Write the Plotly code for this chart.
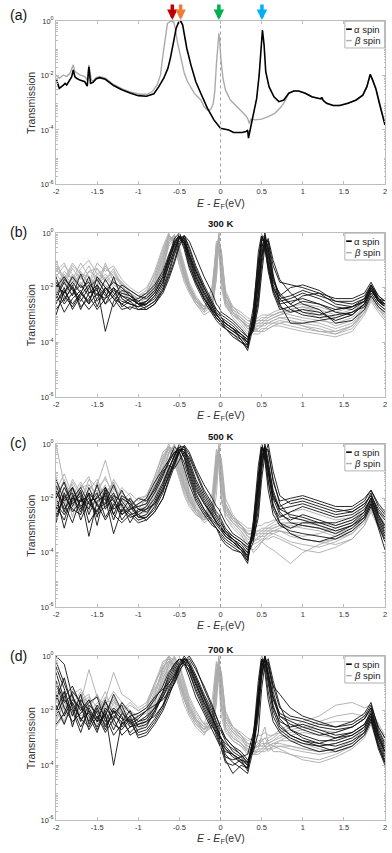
import plotly.graph_objects as go

# ---------------- panel (a): relaxed junction, log10(T)
a_alpha_e = [-2.00, -1.96, -1.91, -1.89, -1.87, -1.85, -1.83, -1.81, -1.79, -1.77, -1.75, -1.71,
             -1.65, -1.62, -1.60, -1.58, -1.55, -1.51, -1.47, -1.40, -1.30, -1.28, -1.20, -1.10,
             -1.00, -0.90, -0.81, -0.75, -0.69, -0.64, -0.61, -0.57, -0.54, -0.51, -0.48, -0.46,
             -0.44, -0.41, -0.36, -0.30, -0.24, -0.16, -0.08, 0.00, 0.10, 0.16, 0.26, 0.31,
             0.33, 0.34, 0.36, 0.40, 0.44, 0.47, 0.49, 0.51, 0.53, 0.55, 0.59, 0.65,
             0.71, 0.77, 0.83, 0.89, 0.95, 1.03, 1.11, 1.19, 1.22, 1.23, 1.25, 1.29,
             1.37, 1.45, 1.55, 1.65, 1.73, 1.78, 1.82, 1.85, 1.89, 1.93, 1.96, 2.00]
a_alpha_logt = [-2.10, -2.47, -2.35, -2.29, -2.35, -2.23, -2.17, -2.05, -1.80, -2.05, -2.10, -2.17,
                -2.23, -2.39, -1.68, -2.29, -2.25, -2.12, -2.08, -2.14, -2.37, -2.40, -2.52, -2.64,
                -2.74, -2.76, -2.67, -2.41, -2.10, -1.74, -1.37, -0.76, -0.27, -0.05, -0.02, -0.15,
                -0.45, -1.00, -1.61, -2.23, -2.65, -3.20, -3.63, -3.94, -4.00, -4.09, -4.09, -4.06,
                -4.00, -4.30, -4.00, -3.45, -2.84, -1.98, -1.00, -0.33, -0.88, -1.86, -2.41, -2.78,
                -2.96, -2.90, -2.65, -2.57, -2.57, -2.65, -2.78, -2.84, -2.86, -2.80, -2.92, -3.02,
                -3.10, -3.10, -3.02, -2.90, -2.72, -2.41, -1.96, -2.17, -2.50, -3.00, -3.38, -3.82]

a_beta_e = [-2.00, -1.96, -1.91, -1.87, -1.83, -1.79, -1.77, -1.71, -1.65, -1.62, -1.60, -1.57,
            -1.55, -1.51, -1.47, -1.40, -1.30, -1.28, -1.20, -1.10, -0.98, -0.89, -0.83, -0.77,
            -0.73, -0.70, -0.67, -0.645, -0.61, -0.57, -0.55, -0.525, -0.48, -0.44, -0.40, -0.32,
            -0.24, -0.20, -0.16, -0.12, -0.09, -0.07, -0.05, -0.03, -0.02, -0.01, 0.004, 0.03,
            0.06, 0.12, 0.22, 0.30, 0.33, 0.35, 0.37, 0.42, 0.50, 0.58, 0.66, 0.74,
            0.78, 0.83, 0.89, 0.95, 1.03, 1.11, 1.19, 1.22, 1.23, 1.25, 1.29, 1.37,
            1.45, 1.55, 1.65, 1.73, 1.78, 1.82, 1.85, 1.89, 1.93, 1.96, 2.00]
a_beta_logt = [-1.98, -2.10, -1.98, -2.04, -1.92, -1.61, -1.86, -1.98, -2.04, -2.17, -1.61, -2.17,
               -2.20, -2.08, -2.04, -2.10, -2.33, -2.36, -2.48, -2.60, -2.69, -2.69, -2.59, -2.35,
               -1.98, -1.25, -0.51, -0.09, -0.02, -0.02, -0.27, -0.76, -1.37, -1.92, -2.23, -2.65,
               -2.90, -3.14, -3.27, -3.25, -3.05, -2.60, -1.60, -0.60, -0.45, -0.70, -1.37, -2.10,
               -2.53, -2.90, -3.20, -3.45, -3.57, -3.76, -3.60, -3.63, -3.60, -3.51, -3.39, -3.14,
               -2.96, -2.65, -2.57, -2.57, -2.65, -2.78, -2.84, -2.86, -2.80, -2.92, -3.02, -3.10,
               -3.10, -3.02, -2.90, -2.72, -2.41, -1.96, -2.17, -2.47, -2.96, -3.33, -3.76]

arrow_energies = [-0.586, -0.485, -0.02, 0.504]
arrow_colors = ['#C00000', '#ED7D31', '#00B050', '#00B0F0']

# ---------------- panels (b)-(d): MD snapshots, log10(T) on a shared energy grid
energy_grid = [-2.0, -1.9, -1.8, -1.7, -1.6, -1.5, -1.4, -1.3, -1.2, -1.1, -1.0,
               -0.9, -0.8, -0.7, -0.63, -0.56, -0.5, -0.44, -0.38, -0.3, -0.2, -0.1,
               -0.05, -0.02, 0.01, 0.06, 0.15, 0.25, 0.33,
               0.4, 0.46, 0.5, 0.54, 0.58, 0.64,
               0.72, 0.85, 1.0, 1.2, 1.4, 1.6, 1.75, 1.83, 1.92, 2.0]

alpha_300 = [
    [-1.9, -2.2, -1.6, -2.0, -1.8, -2.3, -1.7, -2.2, -2.5, -2.6, -2.7,
     -2.6, -2.3, -1.8, -1.1, -0.4, -0.05, -0.3, -0.9, -1.6, -2.3, -2.9,
     -3.1, -3.2, -3.3, -3.4, -3.6, -3.8, -4.1,
     -3.3, -1.6, -0.3, -0.2, -1.0, -2.0,
     -2.5, -2.4, -2.2, -2.4, -2.7, -2.8, -2.5, -2.0, -2.5, -2.6],
    [-2.4, -1.8, -2.3, -1.5, -2.2, -1.9, -2.6, -2.0, -2.3, -2.5, -2.4,
     -2.2, -1.9, -1.4, -0.8, -0.3, -0.1, -0.6, -1.3, -1.9, -2.5, -3.0,
     -3.2, -3.3, -3.4, -3.5, -3.7, -3.9, -4.2,
     -2.9, -0.7, -0.05, -0.5, -1.4, -2.2,
     -2.8, -2.7, -2.5, -2.6, -2.9, -3.0, -2.6, -2.1, -2.4, -2.7],
    [-3.0, -2.1, -2.6, -2.2, -1.6, -2.5, -2.1, -1.8, -2.0, -2.3, -2.5,
     -2.7, -2.5, -2.0, -1.4, -0.7, -0.2, -0.1, -0.6, -1.3, -2.0, -2.6,
     -2.9, -3.0, -3.1, -3.2, -3.4, -3.7, -3.9,
     -3.5, -2.2, -0.8, -0.1, -0.7, -1.7,
     -2.3, -2.0, -1.9, -2.1, -2.5, -2.6, -2.4, -1.9, -2.3, -2.5],
    [-1.6, -2.5, -1.9, -2.7, -2.4, -2.0, -3.6, -2.5, -2.1, -2.2, -2.6,
     -2.8, -2.6, -2.1, -1.5, -0.8, -0.3, -0.2, -0.8, -1.5, -2.2, -2.8,
     -3.0, -3.1, -3.2, -3.3, -3.5, -3.9, -4.3,
     -3.4, -1.9, -0.9, -0.4, -0.3, -1.5,
     -2.6, -3.3, -3.3, -3.2, -3.1, -2.9, -2.7, -2.2, -2.6, -2.8],
    [-2.2, -2.9, -2.4, -2.1, -2.6, -2.2, -2.4, -1.6, -2.4, -2.6, -2.7,
     -2.5, -2.2, -1.7, -1.0, -0.5, -0.15, -0.4, -1.0, -1.7, -2.4, -2.9,
     -3.1, -3.2, -3.3, -3.5, -3.8, -4.0, -4.1,
     -3.1, -1.3, -0.4, -0.6, -1.3, -2.1,
     -2.7, -2.9, -2.8, -2.9, -3.2, -3.0, -2.6, -2.1, -2.5, -2.7],
    [-2.6, -2.0, -2.8, -2.3, -1.9, -2.7, -2.0, -2.3, -2.6, -2.8, -2.5,
     -2.3, -2.0, -1.5, -0.9, -0.2, 0.0, -0.4, -1.1, -1.8, -2.4, -2.8,
     -3.0, -3.1, -3.2, -3.4, -3.6, -3.8, -4.0,
     -3.2, -1.8, -0.6, 0.0, -0.6, -1.8,
     -2.2, -2.6, -2.3, -2.2, -2.6, -2.7, -2.5, -1.9, -2.4, -2.6],
    [-2.0, -1.6, -2.1, -2.5, -2.0, -1.7, -2.2, -2.7, -2.2, -2.3, -2.6,
     -2.6, -2.4, -1.9, -1.2, -0.6, -0.2, -0.3, -0.8, -1.4, -2.0, -2.6,
     -2.8, -2.9, -3.1, -3.3, -3.5, -3.7, -3.9,
     -2.7, -1.0, -0.2, -0.3, -1.1, -2.0,
     -2.4, -2.3, -2.1, -2.3, -2.5, -2.5, -2.3, -1.9, -2.4, -2.5],
    [-2.8, -2.4, -2.0, -2.4, -2.8, -2.4, -2.0, -2.4, -2.8, -2.7, -2.8,
     -2.7, -2.5, -2.1, -1.6, -1.0, -0.4, -0.1, -0.5, -1.2, -1.9, -2.5,
     -2.8, -2.9, -3.0, -3.1, -3.3, -3.6, -3.8,
     -3.6, -2.7, -1.5, -0.5, -0.2, -1.0,
     -1.7, -2.2, -2.6, -2.8, -3.3, -3.2, -2.8, -2.3, -2.7, -2.9],
    [-2.1, -2.6, -2.2, -1.9, -2.3, -2.8, -2.4, -2.1, -2.3, -2.4, -2.6,
     -2.5, -2.2, -1.6, -0.9, -0.35, -0.08, -0.5, -1.2, -1.8, -2.4, -2.9,
     -3.1, -3.2, -3.3, -3.5, -3.7, -4.0, -4.2,
     -3.0, -1.1, -0.1, -0.4, -1.2, -2.1,
     -2.6, -2.5, -2.4, -2.6, -2.8, -2.7, -2.4, -2.0, -2.5, -2.7],
    [-1.8, -2.3, -2.7, -2.2, -2.5, -1.9, -2.3, -2.0, -2.7, -2.5, -2.8,
     -2.8, -2.6, -2.2, -1.7, -1.1, -0.5, -0.1, -0.3, -0.9, -1.6, -2.2,
     -2.6, -2.7, -2.9, -3.0, -3.2, -3.5, -3.8,
     -3.5, -2.5, -1.2, -0.3, -0.3, -1.2,
     -1.8, -1.9, -2.0, -2.2, -2.4, -2.4, -2.2, -1.8, -2.3, -2.5],
    [-2.3, -1.7, -2.0, -2.8, -2.2, -2.1, -2.6, -2.3, -1.9, -2.1, -2.3,
     -2.4, -2.1, -1.6, -1.0, -0.4, -0.1, -0.3, -0.9, -1.6, -2.2, -2.7,
     -3.0, -3.1, -3.2, -3.3, -3.5, -3.7, -4.0,
     -3.2, -1.5, -0.2, -0.1, -0.8, -1.9,
     -2.4, -2.8, -3.0, -3.1, -3.0, -2.9, -2.6, -2.1, -2.5, -2.7],
    [-2.5, -2.2, -1.8, -2.2, -2.6, -1.6, -2.0, -2.4, -2.6, -2.4, -2.6,
     -2.6, -2.3, -1.8, -1.2, -0.6, -0.15, -0.2, -0.7, -1.4, -2.1, -2.7,
     -3.0, -3.1, -3.2, -3.3, -3.5, -3.8, -4.0,
     -3.4, -2.3, -0.9, -0.2, -0.5, -1.6,
     -2.3, -2.6, -2.9, -3.0, -2.8, -2.7, -2.5, -2.0, -2.4, -2.6],
]
beta_300 = [
    [-1.5, -1.9, -1.3, -1.7, -1.2, -1.8, -1.5, -1.9, -2.1, -2.3, -2.4,
     -2.2, -1.6, -0.8, -0.05, -0.4, -1.1, -1.7, -2.1, -2.5, -2.8, -2.6,
     -0.9, -0.1, -1.3, -2.4, -2.9, -3.1, -3.3,
     -3.4, -3.4, -3.3, -3.3, -3.2, -3.1,
     -3.0, -2.9, -2.8, -3.0, -3.2, -3.0, -2.6, -2.2, -2.6, -2.8],
    [-1.2, -1.6, -2.0, -1.4, -1.9, -1.3, -1.7, -1.4, -2.0, -2.2, -2.5,
     -2.4, -1.9, -1.1, -0.3, -0.1, -0.6, -1.3, -1.9, -2.4, -2.7, -2.3,
     -0.3, -0.4, -1.8, -2.6, -3.0, -3.2, -3.5,
     -3.5, -3.6, -3.5, -3.5, -3.4, -3.3,
     -3.2, -3.3, -3.4, -3.5, -3.7, -3.5, -2.9, -2.4, -2.8, -3.0],
    [-2.0, -1.4, -1.7, -1.1, -1.6, -2.1, -1.2, -1.6, -1.8, -2.1, -2.3,
     -2.1, -1.4, -0.5, 0.0, -0.5, -1.2, -1.8, -2.2, -2.6, -2.9, -1.9,
     -0.6, -0.2, -0.9, -2.2, -2.8, -3.0, -3.2,
     -3.2, -3.1, -3.0, -3.0, -3.0, -2.9,
     -2.8, -2.7, -2.6, -2.7, -2.9, -2.7, -2.5, -2.1, -2.5, -2.7],
    [-1.7, -2.2, -1.5, -2.0, -1.4, -1.6, -2.0, -1.8, -2.2, -2.4, -2.6,
     -2.5, -2.0, -1.2, -0.4, -0.1, -0.7, -1.4, -2.0, -2.5, -2.9, -2.7,
     -1.4, -0.5, -0.6, -2.2, -2.9, -3.2, -3.4,
     -3.6, -3.5, -3.4, -3.3, -3.3, -3.2,
     -3.1, -3.1, -3.2, -3.3, -3.5, -3.3, -2.8, -2.3, -2.7, -2.9],
    [-1.0, -1.8, -1.2, -1.5, -1.8, -1.1, -1.4, -1.2, -1.7, -2.0, -2.2,
     -2.0, -1.5, -0.6, -0.1, -0.3, -0.9, -1.5, -2.0, -2.4, -2.7, -2.4,
     -1.0, 0.0, -1.0, -2.3, -2.7, -2.9, -3.1,
     -3.2, -3.2, -3.1, -3.1, -3.0, -3.0,
     -2.9, -2.8, -2.7, -2.8, -3.0, -2.8, -2.4, -2.0, -2.4, -2.6],
    [-2.2, -1.6, -2.3, -1.8, -2.2, -1.7, -1.9, -2.2, -2.3, -2.5, -2.7,
     -2.6, -2.1, -1.3, -0.5, -0.2, -0.8, -1.5, -2.1, -2.6, -3.0, -2.8,
     -1.7, -0.3, -1.6, -2.6, -3.1, -3.4, -3.7,
     -3.6, -3.6, -3.6, -3.5, -3.5, -3.4,
     -3.4, -3.5, -3.6, -3.7, -3.8, -3.6, -3.0, -2.5, -2.9, -3.2],
    [-1.4, -1.1, -1.8, -1.3, -1.0, -1.5, -1.3, -1.6, -1.9, -2.1, -2.3,
     -2.2, -1.7, -0.9, -0.2, -0.2, -0.7, -1.4, -2.0, -2.4, -2.7, -2.2,
     -0.5, -0.6, -2.0, -2.7, -3.0, -3.2, -3.4,
     -3.3, -3.3, -3.2, -3.2, -3.1, -3.0,
     -2.9, -3.0, -3.1, -3.2, -3.3, -3.1, -2.7, -2.2, -2.6, -2.8],
    [-1.8, -2.0, -1.6, -2.2, -1.7, -1.9, -1.6, -2.0, -2.4, -2.6, -2.7,
     -2.3, -1.8, -1.0, -0.2, -0.3, -1.0, -1.6, -2.1, -2.5, -2.8, -2.5,
     -1.2, -0.2, -1.1, -2.5, -3.0, -3.3, -3.6,
     -3.7, -3.7, -3.6, -3.6, -3.5, -3.4,
     -3.3, -3.2, -3.4, -3.6, -3.7, -3.4, -2.9, -2.4, -2.8, -3.1],
    [-1.6, -1.2, -1.5, -1.9, -1.4, -1.3, -1.8, -1.5, -1.8, -2.2, -2.4,
     -2.3, -1.8, -0.9, -0.15, -0.2, -0.9, -1.5, -2.0, -2.4, -2.8, -2.3,
     -0.7, -0.05, -1.4, -2.5, -2.9, -3.2, -3.5,
     -3.5, -3.4, -3.4, -3.3, -3.3, -3.2,
     -3.1, -3.2, -3.3, -3.4, -3.6, -3.4, -2.8, -2.3, -2.7, -3.0],
    [-2.1, -1.5, -1.9, -1.6, -2.0, -1.5, -1.7, -1.3, -1.9, -2.3, -2.5,
     -2.4, -2.0, -1.2, -0.3, -0.05, -0.6, -1.3, -1.9, -2.4, -2.8, -2.7,
     -1.6, -0.2, -0.7, -2.3, -2.8, -3.1, -3.4,
     -3.4, -3.3, -3.3, -3.2, -3.2, -3.1,
     -3.0, -2.8, -2.9, -3.1, -3.4, -3.2, -2.7, -2.3, -2.7, -2.9],
    [-1.3, -1.7, -1.1, -1.5, -1.6, -1.9, -1.1, -1.8, -2.0, -2.2, -2.4,
     -2.2, -1.6, -0.7, -0.1, -0.3, -0.9, -1.6, -2.1, -2.5, -2.8, -2.0,
     -0.4, -0.3, -1.5, -2.4, -2.9, -3.2, -3.4,
     -3.5, -3.5, -3.4, -3.4, -3.3, -3.3,
     -3.3, -3.4, -3.5, -3.6, -3.6, -3.4, -2.9, -2.4, -2.8, -3.0],
    [-1.9, -2.3, -1.8, -1.6, -2.1, -1.6, -2.2, -1.7, -2.1, -2.4, -2.6,
     -2.5, -2.1, -1.3, -0.4, -0.1, -0.5, -1.2, -1.8, -2.3, -2.7, -2.5,
     -1.1, -0.4, -0.8, -2.1, -2.7, -3.0, -3.2,
     -3.3, -3.2, -3.2, -3.1, -3.1, -3.0,
     -2.9, -2.8, -2.7, -2.9, -3.1, -2.9, -2.5, -2.1, -2.5, -2.7],
]

alpha_500 = [
    [-2.0, -1.4, -2.3, -1.7, -2.6, -1.9, -2.2, -1.5, -2.3, -2.6, -2.5,
     -2.3, -1.8, -1.2, -0.6, -0.1, -0.3, -0.9, -1.5, -2.1, -2.6, -3.0,
     -3.1, -3.2, -3.3, -3.5, -3.7, -3.9, -4.2,
     -3.0, -1.2, -0.1, -0.5, -1.4, -2.3,
     -2.7, -2.5, -2.3, -2.5, -2.7, -2.6, -2.3, -1.8, -2.6, -3.0],
    [-2.6, -2.0, -1.6, -2.4, -1.8, -3.0, -1.7, -2.6, -1.9, -2.1, -2.7,
     -2.6, -2.1, -1.5, -0.9, -0.4, 0.0, -0.4, -1.0, -1.7, -2.2, -2.7,
     -2.9, -3.0, -3.1, -3.3, -3.6, -3.8, -4.0,
     -3.4, -2.0, -0.6, 0.0, -0.6, -1.8,
     -2.5, -2.9, -3.0, -3.1, -3.3, -3.0, -2.6, -2.1, -2.9, -3.4],
    [-1.5, -2.4, -2.0, -1.6, -2.2, -1.8, -2.7, -2.2, -2.6, -2.3, -2.0,
     -2.1, -1.7, -1.1, -0.7, -0.3, -0.2, -0.5, -1.1, -1.8, -2.4, -2.9,
     -3.1, -3.2, -3.4, -3.6, -3.8, -4.0, -4.4,
     -2.8, -0.8, 0.0, -0.6, -1.7, -2.6,
     -3.0, -3.2, -3.3, -3.4, -3.5, -3.2, -2.8, -2.3, -3.0, -3.5],
    [-2.3, -2.8, -1.9, -2.5, -1.6, -2.3, -2.0, -3.3, -2.4, -2.7, -2.6,
     -2.4, -2.0, -1.4, -0.9, -0.5, -0.1, -0.1, -0.6, -1.3, -1.9, -2.4,
     -2.7, -2.8, -3.0, -3.2, -3.4, -3.6, -3.9,
     -3.2, -1.6, -0.4, -0.2, -1.1, -2.0,
     -2.3, -2.1, -2.0, -2.2, -2.4, -2.5, -2.2, -1.9, -2.5, -2.8],
    [-1.8, -2.2, -2.9, -2.0, -2.4, -1.5, -2.4, -1.9, -2.1, -2.5, -2.8,
     -2.7, -2.4, -1.8, -1.1, -0.6, -0.2, -0.2, -0.7, -1.4, -2.0, -2.5,
     -2.8, -2.9, -3.1, -3.3, -3.5, -3.8, -4.1,
     -3.6, -2.4, -1.0, -0.1, -0.3, -1.3,
     -2.2, -2.7, -2.8, -3.0, -3.2, -3.0, -2.7, -2.2, -3.0, -3.6],
    [-2.9, -1.8, -2.5, -2.1, -1.9, -2.6, -2.3, -2.0, -2.8, -2.4, -2.3,
     -2.2, -1.6, -1.0, -0.8, -0.9, -0.6, -0.3, -0.5, -1.1, -1.8, -2.3,
     -2.6, -2.7, -2.9, -3.2, -3.5, -3.7, -4.0,
     -3.3, -1.4, -0.2, -0.3, -1.0, -1.9,
     -2.4, -2.3, -2.2, -2.4, -2.6, -2.5, -2.2, -1.9, -2.4, -2.7],
    [-1.3, -2.1, -1.8, -2.8, -2.1, -2.0, -1.6, -2.4, -2.2, -2.9, -2.4,
     -2.5, -2.2, -1.6, -1.0, -0.4, -0.1, -0.5, -1.2, -1.9, -2.4, -2.8,
     -3.0, -3.1, -3.2, -3.4, -3.6, -3.9, -4.3,
     -3.1, -1.8, -0.7, -0.1, -0.9, -2.2,
     -2.9, -3.3, -3.5, -3.6, -3.4, -3.1, -2.7, -2.2, -3.1, -3.9],
    [-2.4, -1.6, -2.2, -1.9, -3.4, -2.1, -1.9, -2.8, -2.0, -2.2, -2.6,
     -2.8, -2.5, -2.0, -1.4, -0.8, -0.3, -0.1, -0.4, -1.0, -1.7, -2.2,
     -2.5, -2.6, -2.8, -3.1, -3.4, -3.6, -3.8,
     -3.5, -2.7, -1.3, -0.4, 0.0, -1.0,
     -1.9, -2.2, -2.1, -2.3, -2.5, -2.4, -2.1, -1.7, -2.3, -2.6],
    [-1.7, -2.5, -1.6, -2.3, -2.0, -2.7, -1.6, -2.1, -2.5, -2.0, -2.4,
     -2.4, -2.2, -1.7, -1.2, -0.6, -0.2, -0.2, -0.8, -1.5, -2.1, -2.6,
     -2.9, -3.0, -3.2, -3.4, -3.6, -3.9, -4.1,
     -3.3, -1.5, -0.3, -0.1, -0.8, -2.0,
     -2.6, -2.8, -2.6, -2.8, -3.0, -2.8, -2.5, -2.0, -2.8, -3.3],
    [-2.2, -2.6, -2.1, -1.8, -2.9, -2.4, -2.2, -1.8, -2.6, -2.4, -2.2,
     -2.0, -1.4, -0.9, -0.6, -0.3, -0.3, -0.7, -1.3, -2.0, -2.5, -2.9,
     -3.1, -3.3, -3.5, -3.7, -3.9, -4.0, -4.3,
     -2.9, -1.0, 0.0, -0.4, -1.3, -2.4,
     -2.9, -3.1, -2.9, -2.9, -3.1, -2.9, -2.5, -2.0, -2.7, -3.2],
    [-2.7, -1.9, -2.4, -2.6, -1.8, -2.2, -2.8, -2.3, -1.7, -2.3, -2.7,
     -2.7, -2.3, -1.7, -1.2, -0.7, -0.3, -0.05, -0.3, -0.9, -1.5, -2.0,
     -2.3, -2.4, -2.6, -2.9, -3.3, -3.5, -3.7,
     -3.4, -2.2, -0.8, -0.2, -0.2, -1.4,
     -2.1, -2.0, -1.9, -2.1, -2.3, -2.3, -2.0, -1.7, -2.2, -2.5],
    [-1.9, -3.1, -2.0, -2.1, -2.2, -2.5, -1.8, -2.6, -2.9, -2.6, -2.9,
     -2.8, -2.5, -2.0, -1.3, -0.7, -0.2, -0.3, -0.9, -1.6, -2.2, -2.6,
     -2.9, -3.0, -3.1, -3.3, -3.5, -3.8, -4.2,
     -3.2, -1.7, -0.5, -0.1, -0.7, -1.7,
     -2.4, -2.6, -2.7, -2.9, -2.9, -2.7, -2.4, -2.0, -2.6, -3.1],
]
beta_500 = [
    [0.0, -1.5, -1.9, -1.4, -2.0, -1.6, -1.3, -1.8, -2.2, -2.0, -2.4,
     -2.0, -1.2, -0.3, -0.1, -0.6, -1.2, -1.8, -2.2, -2.6, -2.8, -2.5,
     -1.0, 0.0, -1.2, -2.4, -2.8, -3.1, -3.3,
     -3.4, -3.3, -3.3, -3.2, -3.2, -3.1,
     -3.0, -3.1, -3.0, -3.1, -3.2, -3.0, -2.5, -2.1, -2.7, -3.0],
    [-1.6, -2.2, -1.3, -1.8, -2.4, -1.5, -0.6, -1.7, -1.9, -2.3, -2.5,
     -2.3, -1.7, -0.8, -0.1, -0.2, -0.8, -1.5, -2.0, -2.5, -2.9, -2.7,
     -0.4, -0.4, -1.9, -2.7, -3.1, -3.4, -3.6,
     -3.7, -3.6, -3.5, -3.5, -3.4, -3.3,
     -3.4, -3.6, -3.7, -3.8, -3.6, -3.3, -2.8, -2.3, -2.9, -3.3],
    [-2.0, -1.3, -2.1, -1.6, -1.2, -2.2, -1.8, -1.4, -2.4, -2.6, -2.2,
     -2.1, -1.5, -0.5, 0.0, -0.4, -1.0, -1.6, -2.1, -2.5, -2.7, -1.8,
     -0.2, -0.8, -2.1, -2.6, -2.9, -3.2, -3.6,
     -4.0, -3.8, -3.6, -3.4, -3.3, -3.2,
     -3.2, -3.3, -3.4, -3.3, -3.1, -2.9, -2.6, -2.2, -2.8, -3.1],
    [-2.5, -1.8, -1.5, -2.3, -1.7, -1.3, -2.0, -2.2, -1.6, -1.9, -2.6,
     -2.5, -2.0, -1.2, -0.4, 0.0, -0.5, -1.2, -1.8, -2.3, -2.7, -2.6,
     -1.5, -0.2, -0.8, -2.2, -2.7, -2.9, -3.1,
     -3.1, -3.0, -3.0, -2.9, -2.9, -2.8,
     -2.8, -2.7, -2.8, -2.9, -3.0, -2.8, -2.4, -2.0, -2.6, -2.9],
    [-1.2, -2.6, -1.7, -2.0, -1.5, -1.9, -1.6, -2.4, -2.0, -2.2, -2.0,
     -1.9, -1.3, -0.6, -0.2, -0.5, -1.1, -1.7, -2.1, -2.4, -2.6, -2.4,
     -0.8, -0.1, -1.5, -2.5, -2.9, -3.1, -3.4,
     -3.5, -3.5, -3.6, -3.7, -3.8, -3.9,
     -4.1, -4.4, -4.0, -3.7, -3.5, -3.3, -2.9, -2.4, -3.0, -3.4],
    [-2.8, -2.0, -2.4, -1.8, -2.2, -2.5, -1.9, -2.1, -2.5, -2.3, -2.7,
     -2.6, -2.2, -1.4, -0.6, -0.2, -0.4, -1.0, -1.7, -2.2, -2.6, -2.2,
     -0.6, -0.5, -1.6, -2.4, -2.8, -3.0, -3.2,
     -3.2, -3.2, -3.1, -3.1, -3.0, -2.9,
     -2.7, -2.5, -2.4, -2.6, -2.8, -2.7, -2.3, -1.9, -2.5, -2.7],
    [-1.9, -1.4, -2.7, -1.5, -1.9, -1.7, -2.3, -1.3, -1.8, -2.1, -2.3,
     -2.2, -1.5, -0.7, -0.1, -0.3, -0.9, -1.5, -2.0, -2.4, -2.7, -2.6,
     -1.3, -0.1, -1.0, -2.3, -2.7, -3.0, -3.3,
     -3.3, -3.4, -3.4, -3.3, -3.3, -3.2,
     -3.1, -3.0, -3.1, -3.2, -3.4, -3.2, -2.7, -2.2, -2.8, -3.1],
    [-2.2, -2.4, -1.8, -2.6, -2.3, -2.0, -1.5, -2.6, -2.2, -2.5, -2.8,
     -2.7, -2.3, -1.6, -0.7, -0.2, -0.6, -1.3, -1.9, -2.4, -2.8, -2.7,
     -1.9, -0.5, -0.5, -2.0, -2.6, -3.0, -3.4,
     -3.6, -3.4, -3.3, -3.3, -3.2, -3.2,
     -3.2, -3.3, -3.5, -3.6, -3.7, -3.5, -3.0, -2.4, -2.9, -3.2],
    [-1.4, -1.8, -2.2, -1.6, -1.5, -1.8, -1.2, -2.0, -1.8, -2.1, -2.3,
     -2.2, -1.6, -0.6, -0.1, -0.4, -1.0, -1.6, -2.1, -2.5, -2.8, -2.3,
     -0.5, -0.1, -1.6, -2.5, -2.9, -3.2, -3.5,
     -3.6, -3.5, -3.4, -3.4, -3.3, -3.3,
     -3.2, -3.4, -3.5, -3.6, -3.5, -3.2, -2.7, -2.2, -2.8, -3.2],
    [-2.3, -1.9, -1.6, -2.0, -1.8, -2.2, -1.7, -1.6, -2.0, -2.4, -2.5,
     -2.4, -1.9, -1.1, -0.3, -0.05, -0.5, -1.2, -1.8, -2.3, -2.7, -2.5,
     -1.2, -0.3, -0.7, -2.2, -2.7, -3.0, -3.3,
     -3.3, -3.2, -3.2, -3.1, -3.1, -3.0,
     -2.9, -2.9, -3.0, -3.1, -3.3, -3.1, -2.6, -2.1, -2.7, -3.0],
    [-1.7, -1.1, -1.9, -2.1, -1.3, -1.6, -2.0, -1.4, -2.1, -1.8, -2.1,
     -1.9, -1.2, -0.4, -0.2, -0.7, -1.3, -1.9, -2.3, -2.6, -2.8, -2.1,
     -0.4, -0.6, -2.0, -2.7, -3.0, -3.3, -3.8,
     -3.9, -3.7, -3.6, -3.5, -3.5, -3.4,
     -3.5, -3.7, -3.9, -4.0, -3.8, -3.5, -3.0, -2.5, -3.1, -3.6],
    [-2.1, -2.3, -1.4, -1.9, -2.5, -1.4, -2.1, -1.9, -2.4, -2.1, -2.4,
     -2.3, -1.8, -0.9, -0.3, -0.2, -0.7, -1.4, -1.9, -2.4, -2.7, -2.4,
     -0.9, -0.1, -1.2, -2.3, -2.8, -3.0, -3.3,
     -3.3, -3.3, -3.2, -3.2, -3.1, -3.1,
     -3.0, -2.9, -2.9, -3.0, -3.2, -3.0, -2.6, -2.2, -2.7, -3.0],
]

alpha_700 = [
    [0.0, -0.3, -1.5, -2.0, -1.6, -2.3, -1.7, -2.1, -1.8, -2.5, -2.3,
     -2.0, -1.6, -1.1, -0.6, -0.3, -0.1, -0.2, -0.6, -1.3, -2.0, -2.6,
     -2.8, -2.9, -3.0, -3.2, -3.4, -3.6, -3.9,
     -3.2, -1.5, -0.3, -0.2, -0.9, -1.9,
     -2.4, -2.6, -2.5, -2.7, -2.9, -2.8, -2.5, -2.0, -2.9, -3.4],
    [-0.4, -1.2, -2.2, -1.4, -2.5, -1.9, -2.6, -2.0, -2.6, -2.2, -2.8,
     -2.7, -2.3, -1.8, -1.2, -0.7, -0.3, 0.0, -0.3, -0.9, -1.6, -2.3,
     -2.6, -2.8, -3.0, -3.3, -3.6, -3.8, -4.2,
     -2.9, -0.9, 0.0, -0.6, -1.6, -2.4,
     -2.8, -3.1, -3.3, -3.5, -3.4, -3.2, -2.8, -2.3, -3.3, -3.9],
    [-1.6, -0.8, -1.9, -2.6, -2.0, -2.7, -2.1, -4.0, -2.4, -2.0, -2.6,
     -2.5, -2.1, -1.4, -0.9, -0.5, -0.2, -0.1, -0.4, -1.0, -1.7, -2.3,
     -2.6, -2.9, -3.2, -3.6, -3.9, -4.1, -4.3,
     -3.4, -2.2, -0.7, 0.0, -0.4, -1.1,
     -1.4, -1.9, -2.2, -2.4, -2.6, -2.5, -2.2, -1.8, -2.6, -3.0],
    [-2.2, -1.5, -1.1, -1.8, -2.7, -2.2, -2.8, -2.3, -2.9, -2.6, -2.4,
     -2.2, -1.9, -1.5, -1.1, -0.8, -0.4, -0.1, -0.2, -0.7, -1.4, -2.0,
     -2.4, -2.6, -2.8, -3.1, -3.5, -3.7, -4.0,
     -3.1, -1.3, -0.2, -0.1, -0.8, -1.8,
     -2.5, -2.9, -3.1, -3.3, -3.5, -3.3, -2.9, -2.4, -3.4, -4.0],
    [-1.0, -1.9, -2.4, -2.1, -1.7, -1.5, -2.4, -1.9, -2.2, -2.9, -2.7,
     -2.6, -2.0, -1.3, -0.7, -0.3, -0.1, -0.3, -0.8, -1.5, -2.1, -2.7,
     -3.0, -3.2, -3.4, -3.7, -3.8, -3.7, -3.6,
     -2.8, -1.7, -0.6, -0.3, -0.2, -1.1,
     -1.9, -2.2, -2.3, -2.5, -2.6, -2.4, -2.1, -1.7, -2.7, -3.2],
    [-1.8, -2.5, -1.7, -2.3, -2.1, -2.6, -2.0, -2.7, -2.1, -2.4, -2.2,
     -2.0, -1.8, -1.6, -1.3, -1.0, -0.6, -0.2, 0.0, -0.4, -1.2, -1.9,
     -2.3, -2.5, -2.7, -3.0, -3.3, -3.5, -3.8,
     -3.5, -2.8, -1.2, -0.3, -0.1, -0.9,
     -1.8, -2.7, -3.0, -3.2, -3.0, -2.8, -2.5, -2.1, -3.0, -3.6],
    [-0.6, -1.6, -2.0, -2.8, -1.9, -2.4, -1.6, -2.5, -2.7, -2.3, -3.0,
     -2.9, -2.5, -2.0, -1.5, -0.9, -0.4, -0.1, -0.3, -0.8, -1.5, -2.1,
     -2.5, -2.7, -3.1, -3.8, -4.3, -4.0, -4.1,
     -3.3, -1.9, -0.5, -0.1, -0.7, -1.6,
     -2.2, -2.4, -2.6, -2.8, -3.0, -2.9, -2.6, -2.2, -3.1, -3.7],
    [-2.5, -2.1, -1.3, -1.7, -2.4, -1.8, -2.2, -1.4, -2.0, -2.6, -2.5,
     -2.4, -2.2, -1.8, -1.4, -1.0, -0.5, -0.3, -0.5, -1.1, -1.8, -2.4,
     -2.8, -3.0, -3.3, -3.5, -3.6, -3.8, -4.0,
     -3.0, -1.1, -0.1, -0.4, -1.3, -2.2,
     -2.7, -3.0, -3.2, -3.3, -3.2, -3.0, -2.7, -2.2, -3.2, -3.8],
    [-0.2, -1.0, -1.8, -2.3, -2.6, -2.0, -2.5, -2.2, -2.4, -2.8, -2.5,
     -2.4, -2.0, -1.5, -1.0, -0.6, -0.3, -0.1, -0.3, -0.8, -1.5, -2.2,
     -2.6, -2.8, -3.1, -3.4, -3.6, -3.9, -4.1,
     -3.1, -1.4, -0.2, -0.2, -1.0, -2.0,
     -2.6, -2.9, -3.1, -3.2, -3.3, -3.1, -2.8, -2.3, -3.3, -3.9],
    [-1.4, -2.2, -1.6, -1.9, -2.2, -2.8, -1.9, -2.3, -1.7, -2.1, -2.4,
     -2.3, -1.9, -1.3, -0.8, -0.4, -0.1, -0.2, -0.6, -1.2, -1.9, -2.5,
     -2.9, -3.1, -3.4, -3.9, -4.0, -3.8, -3.9,
     -3.0, -1.6, -0.4, -0.1, -0.6, -1.5,
     -2.1, -2.3, -2.4, -2.6, -2.7, -2.6, -2.3, -1.9, -2.8, -3.3],
    [-2.0, -1.3, -2.6, -1.6, -2.0, -2.4, -2.2, -2.9, -2.5, -2.2, -2.1,
     -1.9, -1.5, -1.2, -1.0, -0.7, -0.4, -0.2, -0.1, -0.5, -1.1, -1.8,
     -2.2, -2.4, -2.7, -3.0, -3.3, -3.6, -3.9,
     -3.3, -2.0, -0.8, -0.1, -0.3, -1.3,
     -2.2, -2.5, -2.7, -2.9, -2.8, -2.6, -2.3, -1.9, -2.9, -3.5],
    [-0.9, -1.7, -1.4, -2.4, -1.8, -2.1, -2.7, -2.0, -2.3, -2.4, -2.9,
     -2.8, -2.4, -1.9, -1.3, -0.8, -0.4, -0.2, -0.4, -1.0, -1.7, -2.3,
     -2.7, -2.9, -3.2, -3.4, -3.7, -3.9, -4.1,
     -3.2, -1.8, -0.4, 0.0, -0.6, -1.5,
     -2.3, -2.7, -2.9, -3.1, -3.1, -2.9, -2.6, -2.1, -3.0, -3.5],
]
beta_700 = [
    [-1.5, -1.9, -1.2, -1.7, -0.5, -1.5, -1.8, -1.3, -1.7, -2.0, -2.3,
     -2.0, -1.3, -0.5, 0.0, -0.2, -0.7, -1.3, -1.8, -2.3, -2.7, -2.4,
     -0.9, 0.0, -1.2, -2.4, -2.8, -3.0, -3.2,
     -3.3, -3.3, -3.2, -3.2, -3.1, -3.0,
     -2.8, -2.6, -2.4, -2.2, -1.8, -1.7, -1.9, -1.8, -2.6, -3.0],
    [-2.2, -1.6, -2.0, -1.4, -1.8, -2.1, -1.6, -0.6, -1.4, -1.6, -1.9,
     -1.7, -1.0, -0.2, -0.1, -0.5, -1.1, -1.6, -2.0, -2.4, -2.7, -2.2,
     -0.3, -0.6, -1.9, -2.7, -3.1, -3.3, -3.5,
     -3.6, -3.5, -3.5, -3.4, -3.4, -3.3,
     -3.4, -3.6, -3.7, -3.8, -3.6, -3.3, -2.9, -2.3, -3.2, -3.8],
    [-1.8, -2.4, -1.5, -2.2, -1.9, -1.4, -2.3, -1.9, -2.5, -2.2, -2.5,
     -2.3, -1.7, -0.9, -0.3, 0.0, -0.4, -1.0, -1.6, -2.1, -2.5, -1.6,
     -0.2, -1.0, -2.2, -2.8, -3.1, -3.3, -3.6,
     -3.4, -3.2, -3.0, -3.3, -3.5, -3.3,
     -3.1, -2.9, -2.8, -2.9, -3.0, -2.8, -2.5, -2.1, -2.9, -3.4],
    [-2.0, -1.3, -2.5, -1.8, -2.6, -1.9, -1.3, -2.2, -2.0, -2.4, -2.7,
     -2.5, -1.8, -0.6, -0.2, -0.3, -0.8, -1.5, -2.0, -2.4, -2.8, -2.6,
     -1.3, -0.1, -1.0, -2.3, -2.7, -2.9, -3.1,
     -3.0, -2.9, -2.9, -2.8, -2.9, -2.9,
     -2.7, -2.5, -2.6, -2.7, -2.8, -2.6, -2.3, -1.9, -2.7, -3.1],
    [-1.3, -2.0, -1.8, -1.3, -2.1, -1.7, -2.0, -1.6, -2.3, -2.6, -2.2,
     -2.0, -1.5, -1.0, -0.5, -0.1, -0.3, -0.9, -1.5, -2.0, -2.5, -2.4,
     -0.7, -0.2, -1.6, -2.6, -3.0, -3.2, -3.4,
     -3.6, -3.4, -2.9, -2.6, -3.2, -3.5,
     -3.5, -3.6, -3.8, -3.9, -3.7, -3.4, -3.0, -2.5, -3.3, -3.9],
    [-2.4, -1.7, -1.9, -2.4, -1.6, -2.3, -2.1, -1.5, -2.1, -1.8, -2.0,
     -1.8, -1.2, -0.7, -0.2, -0.4, -1.0, -1.6, -2.1, -2.5, -2.8, -2.6,
     -1.8, -0.4, -0.6, -2.1, -2.6, -2.9, -3.3,
     -3.4, -3.3, -3.3, -3.2, -3.2, -3.1,
     -3.0, -2.8, -2.7, -2.5, -2.4, -2.4, -2.3, -2.0, -2.5, -2.9],
    [-1.1, -1.5, -2.2, -1.6, -1.4, -2.5, -1.8, -2.4, -1.8, -2.1, -2.4,
     -2.2, -1.4, -0.4, -0.1, -0.3, -0.9, -1.4, -1.9, -2.3, -2.6, -2.1,
     -0.5, -0.3, -1.7, -2.5, -2.9, -3.2, -3.5,
     -3.5, -3.5, -3.4, -3.4, -3.3, -3.2,
     -3.2, -3.3, -3.4, -3.5, -3.4, -3.1, -2.7, -2.2, -2.9, -3.3],
    [-2.6, -2.1, -1.6, -2.0, -2.3, -1.8, -2.6, -2.0, -2.3, -2.0, -2.2,
     -2.1, -1.6, -0.8, -0.4, -0.1, -0.6, -1.2, -1.8, -2.3, -2.7, -2.5,
     -1.1, -0.2, -0.9, -2.2, -2.6, -2.8, -3.0,
     -3.1, -3.2, -3.3, -3.3, -3.2, -3.1,
     -2.9, -3.0, -3.2, -3.3, -3.2, -3.0, -2.6, -2.1, -2.8, -3.2],
    [-1.6, -2.2, -1.4, -1.2, -1.8, -2.0, -1.5, -1.8, -2.1, -2.3, -2.5,
     -2.3, -1.5, -0.5, -0.05, -0.3, -0.8, -1.4, -1.9, -2.4, -2.7, -2.2,
     -0.6, -0.1, -1.3, -2.4, -2.8, -3.1, -3.3,
     -3.4, -3.3, -3.1, -3.0, -3.2, -3.3,
     -3.3, -3.3, -3.4, -3.5, -3.4, -3.2, -2.8, -2.3, -2.9, -3.3],
    [-2.3, -1.8, -2.1, -1.7, -1.5, -1.9, -2.4, -1.7, -1.9, -2.2, -2.1,
     -1.9, -1.1, -0.3, 0.0, -0.4, -1.0, -1.6, -2.1, -2.5, -2.8, -2.5,
     -1.4, -0.3, -0.7, -2.2, -2.7, -3.0, -3.4,
     -3.5, -3.4, -3.4, -3.3, -3.3, -3.2,
     -3.1, -3.1, -3.2, -3.4, -3.5, -3.3, -2.8, -2.3, -2.9, -3.4],
    [-1.4, -1.7, -2.0, -1.5, -1.9, -1.4, -2.1, -1.6, -2.0, -1.7, -2.0,
     -1.8, -1.0, -0.4, -0.2, -0.6, -1.2, -1.8, -2.2, -2.6, -2.9, -2.3,
     -0.5, -0.4, -1.8, -2.6, -3.0, -3.2, -3.5,
     -3.6, -3.6, -3.5, -3.5, -3.4, -3.4,
     -3.3, -3.4, -3.5, -3.6, -3.5, -3.3, -2.9, -2.4, -3.0, -3.5],
    [-2.0, -2.5, -1.7, -2.1, -1.6, -2.4, -1.9, -2.3, -2.0, -2.3, -2.6,
     -2.4, -1.9, -1.1, -0.3, -0.05, -0.4, -1.1, -1.7, -2.2, -2.6, -2.6,
     -1.6, -0.2, -0.6, -2.0, -2.6, -2.9, -3.2,
     -3.2, -3.1, -3.1, -3.0, -3.0, -2.9,
     -2.8, -2.7, -2.6, -2.4, -2.2, -2.1, -2.2, -1.9, -2.6, -3.0],
]

panel_titles = ['', '300 K', '500 K', '700 K']
panel_letters = ['(a)', '(b)', '(c)', '(d)']
x_ticks = [-2, -1.5, -1, -0.5, 0, 0.5, 1, 1.5, 2]
x_ticktext = ['-2', '-1.5', '-1', '-0.5', '0', '0.5', '1', '1.5', '2']
y_ticks = [1e-6, 1e-4, 1e-2, 1]
y_ticktext = ['10<sup>-6</sup>', '10<sup>-4</sup>', '10<sup>-2</sup>', '10<sup>0</sup>']

FONT = 'Liberation Sans, Arial, sans-serif'
TXT = '#333333'
AXC = '#BDBDBD'
ALPHA_C = '#000000'
BETA_C = '#ABABAB'

# panel placement (fractions of plot area, bottom-up)
y_domains = [[0.7954, 1.0], [0.5294, 0.7347], [0.2666, 0.4706], [0.0, 0.2053]]
title_y = [None, 1.055, 1.045, 1.041]
letter_y = [1.037, 1.006, 1.004, 1.002]

fig = go.Figure()


def to_t(vals):
    return [10 ** v for v in vals]


# panel (a)
fig.add_trace(go.Scatter(x=a_beta_e, y=to_t(a_beta_logt), mode='lines',
                         line=dict(color=BETA_C, width=1.4), xaxis='x', yaxis='y', showlegend=False))
fig.add_trace(go.Scatter(x=a_alpha_e, y=to_t(a_alpha_logt), mode='lines',
                         line=dict(color=ALPHA_C, width=1.6), xaxis='x', yaxis='y', showlegend=False))

# panels (b)-(d)
md_sets = [(alpha_300, beta_300), (alpha_500, beta_500), (alpha_700, beta_700)]
for k, (al, be) in enumerate(md_sets):
    n = k + 2
    for curve in be:
        fig.add_trace(go.Scatter(x=energy_grid, y=to_t(curve), mode='lines',
                                 line=dict(color=BETA_C, width=0.9),
                                 xaxis=f'x{n}', yaxis=f'y{n}', showlegend=False))
    for curve in al:
        fig.add_trace(go.Scatter(x=energy_grid, y=to_t(curve), mode='lines',
                                 line=dict(color='#111111', width=0.9),
                                 xaxis=f'x{n}', yaxis=f'y{n}', showlegend=False))

layout = dict(
    width=392, height=853,
    margin=dict(l=56, r=5, t=21, b=33),
    paper_bgcolor='white', plot_bgcolor='white',
    font=dict(family=FONT, color=TXT),
    showlegend=False,
)
minor_vals = [m * 10 ** p for p in range(-6, 0) for m in range(2, 10)]
for i in range(4):
    n = i + 1
    xs = '' if n == 1 else str(n)
    layout['xaxis' + xs] = dict(
        domain=[0, 1], anchor='y' + xs, range=[-2, 2],
        tickmode='array', tickvals=x_ticks, ticktext=x_ticktext,
        ticks='inside', ticklen=3, tickcolor=AXC, mirror='ticks',
        showline=True, linecolor=AXC, linewidth=1,
        showgrid=False, zeroline=False, tickfont=dict(size=7.5, color=TXT))
    layout['yaxis' + xs] = dict(
        domain=y_domains[i], anchor='x' + xs, type='log', range=[-6, 0],
        tickmode='array', tickvals=y_ticks, ticktext=y_ticktext,
        ticks='inside', ticklen=3, tickcolor=AXC, mirror='ticks',
        minor=dict(tickmode='array', tickvals=minor_vals, ticks='inside', ticklen=1.5, tickcolor=AXC),
        showline=True, linecolor=AXC, linewidth=1,
        showgrid=False, zeroline=False, tickfont=dict(size=7.5, color=TXT))
fig.update_layout(**layout)

for i in range(4):
    n = i + 1
    xs = '' if n == 1 else str(n)
    xr, yr = 'x' + xs + ' domain', 'y' + xs + ' domain'
    # dotted Fermi level
    fig.add_shape(type='line', xref='x' + xs, yref=yr, x0=0, x1=0, y0=0, y1=1,
                  line=dict(color='#9E9E9E', width=1, dash='dot'))
    # legend box
    fig.add_shape(type='rect', xref=xr, yref=yr, x0=0.878, x1=0.999, y0=0.835, y1=0.999,
                  line=dict(color='#A0A0A0', width=0.8), fillcolor='white', layer='above')
    fig.add_shape(type='line', xref=xr, yref=yr, x0=0.882, x1=0.899, y0=0.95, y1=0.95,
                  line=dict(color=ALPHA_C, width=1.6), layer='above')
    fig.add_shape(type='line', xref=xr, yref=yr, x0=0.882, x1=0.899, y0=0.88, y1=0.88,
                  line=dict(color=BETA_C, width=1.4), layer='above')
    fig.add_annotation(text='α spin', xref=xr, yref=yr, x=0.9, y=0.95, xanchor='left',
                       yanchor='middle', showarrow=False, font=dict(size=9.5, color='#222'))
    fig.add_annotation(text='<i>β</i> spin', xref=xr, yref=yr, x=0.9, y=0.88, xanchor='left',
                       yanchor='middle', showarrow=False, font=dict(size=9.5, color='#222'))
    # axis titles
    fig.add_annotation(text='<i>E</i> - <i>E</i><sub>F</sub>(eV)', xref=xr, yref=yr, x=0.5, y=-0.062,
                       xanchor='center', yanchor='top', showarrow=False, font=dict(size=10.5, color=TXT))
    fig.add_annotation(text='Transmission', xref=xr, yref=yr, x=-0.0755, y=0.5, textangle=-90,
                       xanchor='center', yanchor='middle', showarrow=False, font=dict(size=10.5, color=TXT))
    # panel letter and title
    fig.add_annotation(text=panel_letters[i], xref=xr, yref=yr, x=-0.145, y=letter_y[i],
                       xanchor='left', yanchor='middle', showarrow=False, font=dict(size=14, color='#111'))
    if panel_titles[i]:
        fig.add_annotation(text='<b>' + panel_titles[i] + '</b>', xref=xr, yref=yr, x=0.5, y=title_y[i],
                           xanchor='center', yanchor='middle', showarrow=False, font=dict(size=9.5, color='#111'))

# arrows marking the energies of panel (a)
for e, c in zip(arrow_energies, arrow_colors):
    fig.add_annotation(x=e, y=1, xref='x', yref='y domain', ax=0, ay=-18, text='',
                       showarrow=True, arrowhead=2, arrowsize=0.6, arrowwidth=3.5,
                       arrowcolor=c, standoff=1)

fig.write_html("out.html", config={'displayModeBar': False},
               post_script="document.body.style.margin='0';document.body.style.overflow='hidden';")
